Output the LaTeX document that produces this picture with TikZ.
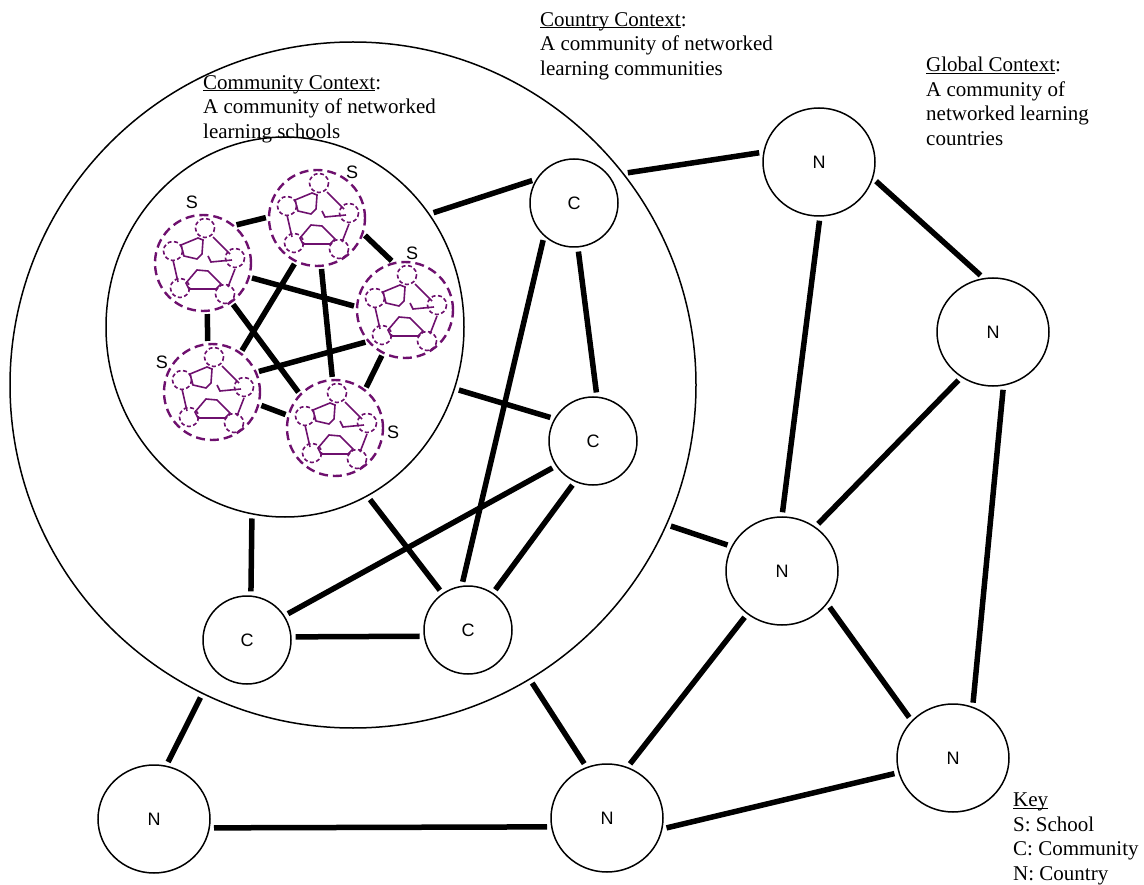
\documentclass[tikz,border=0pt]{standalone}
\usepackage{fontspec}
\setmainfont{Liberation Serif}
\newfontfamily\arialf{Liberation Sans}
\usetikzlibrary{shapes.geometric}
\definecolor{schoolpurple}{RGB}{110,16,110}
\newcommand\uline[1]{\setbox0\hbox{#1}\rlap{\rule[-2.2pt]{\wd0}{1.1pt}}\box0}
\newcommand\minischool[1]{%
  \begin{scope}[shift={(#1)},draw=schoolpurple,line width=1.6pt]
    \foreach \p in {(2,-35),(-30,-12),(32,-5),(-23,25),(22,31)}
      \draw[dash pattern=on 4pt off 2.5pt] \p circle (9.5);
    \draw (-22,-18) -- (-5,-25) -- (0,-23) -- (-1,-9) -- (-6,-4) -- (-19,-7) -- cycle;
    \draw (-17,20) -- (-6,7) -- (5,8) -- (18,21) -- (13,26) -- (-14,26) -- cycle;
    \draw (10,-26) -- (27,-9);
    \draw (-30,-3) -- (-25,19);
    \draw (32,6) -- (25,24);
    \draw (5,-7) -- (8,-1) -- (29,-3);
  \end{scope}}
\begin{document}
\begin{tikzpicture}[x=1pt,y=-1pt,
  lab/.style={font=\arialf\fontsize{18}{18}\selectfont},
  ring/.style={draw,line width=1.5pt,circle,inner sep=0},
  cnode/.style={ring,minimum size=88pt,lab},
  nnode/.style={draw,line width=1.5pt,ellipse,minimum width=112pt,minimum height=108pt,inner sep=0,lab},
  link/.style={line width=5.5pt,shorten <=4pt,shorten >=4pt},
  slink/.style={line width=5.5pt,shorten <=2pt,shorten >=2pt},
  school/.style={circle,draw=schoolpurple,line width=2.4pt,dash pattern=on 9pt off 5pt,minimum size=96pt,inner sep=0},
  slabel/.style={lab,inner sep=0},
  ctext/.style={anchor=north west,align=left,inner sep=0,font=\fontsize{21}{24.5}\selectfont}]
\useasboundingbox (0,0) rectangle (1144,885);

% contexts
\node[ring,minimum size=686pt] (country) at (353,385) {};
\node[draw,ellipse,line width=1.5pt,minimum width=358pt,minimum height=380pt,inner sep=0] (community) at (285,327) {};

% texts
\node[ctext] (commtext) at (203,75) {\uline{Community Context}:\\A community of networked\\learning schools};
\node[ctext] (countrytext) at (540,12) {\uline{Country Context}:\\A community of networked\\learning communities};
\node[ctext] (globaltext) at (926,57) {\uline{Global Context}:\\A community of\\networked learning\\countries};
\node[ctext] (keytext) at (1013,793) {\uline{Key}\\S: School\\C: Community\\N: Country};

% schools
\node[school] (s1) at (203,263) {};
\node[school] (s2) at (317,218) {};
\node[school] (s3) at (405,310) {};
\node[school] (s4) at (212,392) {};
\node[school] (s5) at (335,428) {};
\minischool{s1.center}
\minischool{s2.center}
\minischool{s3.center}
\minischool{s4.center}
\minischool{s5.center}
\node[slabel] (l1) at (192,202) {S};
\node[slabel] (l2) at (352,172) {S};
\node[slabel] (l3) at (412,253) {S};
\node[slabel] (l4) at (162,362) {S};
\node[slabel] (l5) at (393,432) {S};

\draw[slink] (s1.50) -- (s2.179);
\draw[slink] (s2.-19) -- (s3.104);
\draw[slink] (s3.243) -- (s5.52);
\draw[slink] (s5.165) -- (s4.-15);
\draw[slink] (s4.95) -- (s1.275);
\draw[slink] (s1.-17) -- (s3.176);
\draw[slink] (s1.-54) -- (s5.136);
\draw[slink] (s2.244) -- (s4.54);
\draw[slink] (s2.275) -- (s5.93);
\draw[slink] (s4.24) -- (s3.220);

% communities
\node[cnode] (c1) at (574,203) {C};
\node[cnode] (c2) at (593,441) {C};
\node[cnode] (c3) at (247,640) {C};
\node[cnode] (c4) at (468,630) {C};

% countries
\node[nnode] (n1) at (819,162) {N};
\node[nnode] (n2) at (993,332) {N};
\node[nnode] (n3) at (782,571) {N};
\node[nnode] (n4) at (953,758) {N};
\node[nnode] (n5) at (607,818) {N};
\node[nnode] (n6) at (154,819) {N};

% community-level links
\draw[link] (community.38) -- (c1.148);
\draw[link] (community.-20) -- (c2.150);
\draw[link] (community.-64) -- (c4.125);
\draw[link] (community.-100) -- (c3.85);
\draw[link] (c1.228) -- (c4.98);
\draw[link] (c1.275) -- (c2.85);
\draw[link] (c2.214) -- (c3.33);
\draw[link] (c2.246) -- (c4.56);
\draw[link] (c3.4) -- (c4.188);

% country-level links
\draw[link] (country.38) -- (n1.170);
\draw[link] (country.-24.5) -- (n3.154);
\draw[link] (country.244.6) -- (n6.77);
\draw[link] (country.-59.5) -- (n5.112);
\draw[link] (n6.-9) -- (n5.189);
\draw[link] (n5.-11) -- (n4.195);
\draw[link] (n5.68) -- (n3.231);
\draw[link] (n3.-36) -- (n4.138);
\draw[link] (n3.53) -- (n2.235);
\draw[link] (n3.90) -- (n1.271);
\draw[link] (n1.-17) -- (n2.100);
\draw[link] (n2.281) -- (n4.69);
\end{tikzpicture}
\end{document}
